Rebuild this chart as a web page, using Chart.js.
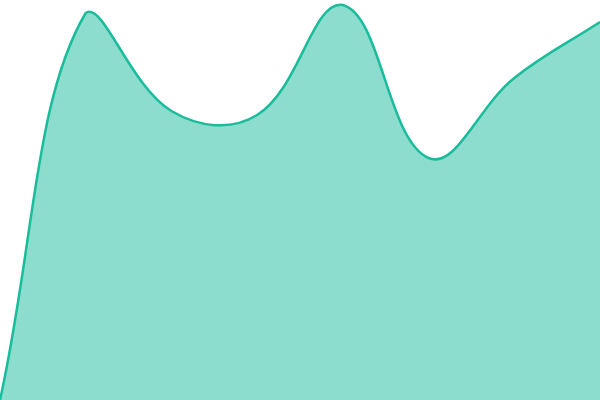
<!DOCTYPE html>
<html>
<head>
<meta charset="utf-8">
<script src="https://cdn.jsdelivr.net/npm/chart.js@4/dist/chart.umd.min.js"></script>
<style>
html,body{margin:0;padding:0;background:#fff;}
#wrap{width:600px;height:400px;}
</style>
</head>
<body>
<div id="wrap"><canvas id="c" width="600" height="400"></canvas></div>
<script>
const labels = ['Jan', 'Feb', 'Mar', 'Apr', 'May', 'Jun', 'Jul', 'Aug'];
const values = [0, 387, 289, 285, 395, 242, 322, 378];
const yMin = 0;
const yMax = 400;

new Chart(document.getElementById('c'), {
  type: 'line',
  data: {
    labels: labels,
    datasets: [{
      data: values,
      borderColor: '#1abc9c',
      backgroundColor: 'rgba(26,188,156,0.5)',
      borderWidth: 2.5,
      fill: 'origin',
      tension: 0.4,
      pointRadius: 0
    }]
  },
  options: {
    responsive: false,
    animation: false,
    devicePixelRatio: 1,
    layout: { padding: 0 },
    plugins: { legend: { display: false }, tooltip: { enabled: false } },
    scales: {
      x: { display: false },
      y: { display: false, min: yMin, max: yMax }
    }
  }
});
</script>
</body>
</html>
